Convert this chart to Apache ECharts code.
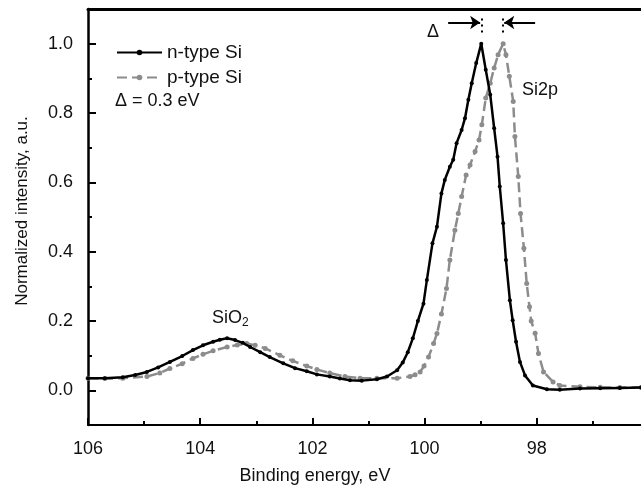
<!DOCTYPE html>
<html>
<head>
<meta charset="utf-8">
<script src="https://cdn.jsdelivr.net/npm/echarts@6/dist/echarts.min.js"></script>
<style>
html,body{margin:0;padding:0;background:#fff;}
#chart{width:641px;height:488px;}
</style>
</head>
<body>
<div id="chart"></div>
<script>
// ---- data ----
const nEnergy = [106.00,105.70,105.38,105.16,104.95,104.75,104.54,104.32,104.13,103.95,103.77,103.65,103.52,103.38,103.24,103.11,102.93,102.76,102.52,102.31,102.10,101.92,101.69,101.51,101.33,101.12,100.85,100.67,100.49,100.39,100.30,100.21,100.12,100.02,99.96,99.86,99.78,99.70,99.64,99.55,99.49,99.43,99.34,99.28,99.22,99.16,99.08,98.99,98.91,98.83,98.76,98.70,98.66,98.60,98.55,98.48,98.43,98.37,98.30,98.21,98.07,97.82,97.59,97.23,96.87,96.52,96.14];
const nIntensity = [0.035,0.035,0.038,0.044,0.053,0.066,0.082,0.099,0.116,0.130,0.140,0.146,0.150,0.145,0.137,0.125,0.110,0.096,0.078,0.064,0.055,0.046,0.040,0.034,0.029,0.028,0.032,0.040,0.058,0.080,0.110,0.150,0.200,0.250,0.318,0.424,0.472,0.568,0.607,0.645,0.665,0.713,0.751,0.785,0.838,0.886,0.944,1.000,0.925,0.853,0.756,0.674,0.588,0.482,0.376,0.260,0.202,0.140,0.082,0.043,0.014,0.003,0.002,0.005,0.006,0.007,0.008];

const pEnergy = [106.00,105.70,105.38,104.95,104.72,104.54,104.32,104.13,103.95,103.77,103.52,103.34,103.17,103.02,102.84,102.58,102.35,102.10,101.92,101.69,101.42,101.15,100.85,100.49,100.26,100.17,100.08,100.01,99.93,99.84,99.78,99.70,99.61,99.55,99.46,99.40,99.34,99.26,99.19,99.10,99.03,98.98,98.91,98.83,98.76,98.69,98.60,98.55,98.49,98.42,98.39,98.33,98.29,98.23,98.18,98.13,98.10,98.03,97.97,97.88,97.71,97.59,97.23,96.87,96.52,96.14];
const pIntensity = [0.035,0.034,0.035,0.040,0.050,0.063,0.077,0.092,0.104,0.114,0.125,0.131,0.135,0.130,0.121,0.101,0.085,0.070,0.060,0.050,0.040,0.035,0.035,0.035,0.040,0.045,0.053,0.070,0.096,0.135,0.164,0.220,0.294,0.376,0.462,0.510,0.559,0.621,0.650,0.689,0.722,0.766,0.843,0.886,0.930,0.968,1.000,0.968,0.906,0.833,0.732,0.617,0.510,0.410,0.308,0.241,0.200,0.165,0.106,0.053,0.024,0.014,0.010,0.009,0.008,0.008];

const seriesNames = ['n-type Si', 'p-type Si'];
const yMajorTicks = [0.0, 0.2, 0.4, 0.6, 0.8, 1.0];
const yMinorTicks = [0.1, 0.3, 0.5, 0.7, 0.9];
const peakN = 98.99, peakP = 98.60;

const FONT = 'Liberation Sans, Arial, sans-serif';
const TXT = '#111';

const chart = echarts.init(document.getElementById('chart'));
const pairs = (xs, ys) => xs.map((x, i) => [x, ys[i]]);

const option = {
  animation: false,
  backgroundColor: '#fff',
  grid: { left: 88, width: 561, top: 9, bottom: 63, containLabel: false, outerBoundsMode: 'none' },
  legend: {
    data: seriesNames,
    orient: 'vertical',
    left: 111, top: 38,
    itemWidth: 45, itemHeight: 7, itemGap: 6,
    textStyle: { fontSize: 19, fontFamily: FONT, color: TXT },
    selectedMode: false
  },
  xAxis: [{
    type: 'value', inverse: true, min: 96, max: 106, interval: 2,
    position: 'bottom',
    axisLine: { show: true, onZero: false, lineStyle: { color: '#000', width: 2 } },
    axisTick: { show: true, inside: true, length: 7, lineStyle: { color: '#000', width: 2 } },
    minorTick: { show: true, splitNumber: 2, length: 4, lineStyle: { color: '#000', width: 2 } },
    axisLabel: { fontSize: 18, fontFamily: FONT, color: TXT, margin: 15,
      formatter: v => (v === 96 ? '' : String(v)) },
    splitLine: { show: false }
  }, {
    type: 'value', inverse: true, min: 96, max: 106, position: 'top',
    axisLine: { show: true, onZero: false, lineStyle: { color: '#000', width: 3 } },
    axisTick: { show: false }, axisLabel: { show: false }, splitLine: { show: false }
  }],
  yAxis: [{
    type: 'value', min: -0.1, max: 1.1, position: 'left',
    axisLine: { show: true, onZero: false, lineStyle: { color: '#000', width: 2.5 } },
    axisTick: { show: true, inside: true, length: 8, customValues: yMajorTicks, lineStyle: { color: '#000', width: 2 } },
    axisLabel: { customValues: yMajorTicks, fontSize: 18, fontFamily: FONT, color: TXT, margin: 15,
      formatter: v => v.toFixed(1) },
    splitLine: { show: false }
  }, {
    type: 'value', min: -0.1, max: 1.1, position: 'left',
    axisLine: { show: false, onZero: false },
    axisTick: { show: true, inside: true, length: 4, customValues: yMinorTicks, lineStyle: { color: '#000', width: 2 } },
    axisLabel: { show: false }, splitLine: { show: false }
  }],
  series: [{
    name: seriesNames[0], type: 'line', xAxisIndex: 0, yAxisIndex: 0,
    data: pairs(nEnergy, nIntensity),
    symbol: 'circle', symbolSize: 4, showSymbol: true,
    itemStyle: { color: '#000' },
    lineStyle: { color: '#000', width: 2.5 },
    z: 3,
    markLine: {
      silent: true, animation: false, symbolSize: 10,
      label: { show: false },
      data: [
        [{ coord: [99.58, 1.061], symbol: 'none', lineStyle: { color: '#000', width: 2, type: 'solid' } },
         { coord: [peakN + 0.02, 1.061], symbol: 'arrow' }],
        [{ coord: [98.03, 1.061], symbol: 'none', lineStyle: { color: '#000', width: 2, type: 'solid' } },
         { coord: [peakP - 0.02, 1.061], symbol: 'arrow' }],
        [{ coord: [peakN, 1.032], symbol: 'none', lineStyle: { color: '#000', width: 2, type: [2, 4] } },
         { coord: [peakN, 1.08], symbol: 'none' }],
        [{ coord: [peakP, 1.032], symbol: 'none', lineStyle: { color: '#000', width: 2, type: [2, 4] } },
         { coord: [peakP, 1.08], symbol: 'none' }]
      ]
    }
  }, {
    name: seriesNames[1], type: 'line', xAxisIndex: 0, yAxisIndex: 0,
    data: pairs(pEnergy, pIntensity),
    symbol: 'circle', symbolSize: 5, showSymbol: true,
    itemStyle: { color: '#8c8c8c' },
    lineStyle: { color: '#8c8c8c', width: 2.5, type: [10, 5] },
    z: 2
  }],
  graphic: [
    { type: 'text', x: 22, y: 211, rotation: Math.PI / 2,
      style: { text: 'Normalized intensity, a.u.', fontSize: 17, fontFamily: FONT, fill: TXT, align: 'center', verticalAlign: 'middle' } },
    { type: 'text', x: 315, y: 476,
      style: { text: 'Binding energy, eV', fontSize: 18, fontFamily: FONT, fill: TXT, align: 'center', verticalAlign: 'middle' } },
    { type: 'text', x: 115, y: 101,
      style: { text: 'Δ = 0.3 eV', fontSize: 18, fontFamily: FONT, fill: TXT, align: 'left', verticalAlign: 'middle' } },
    { type: 'text', x: 427, y: 32,
      style: { text: 'Δ', fontSize: 18, fontFamily: FONT, fill: TXT, align: 'left', verticalAlign: 'middle' } },
    { type: 'text', x: 522, y: 90,
      style: { text: 'Si2p', fontSize: 18, fontFamily: FONT, fill: TXT, align: 'left', verticalAlign: 'middle' } },
    { type: 'text', x: 212, y: 318,
      style: { text: '{a|SiO}{b|2}', fontFamily: FONT, fill: TXT, align: 'left', verticalAlign: 'middle',
        rich: { a: { fontSize: 18, fontFamily: FONT, color: TXT },
                b: { fontSize: 12, fontFamily: FONT, color: TXT, padding: [10, 0, 0, 0] } } } }
  ]
};
chart.setOption(option);
</script>
</body>
</html>
